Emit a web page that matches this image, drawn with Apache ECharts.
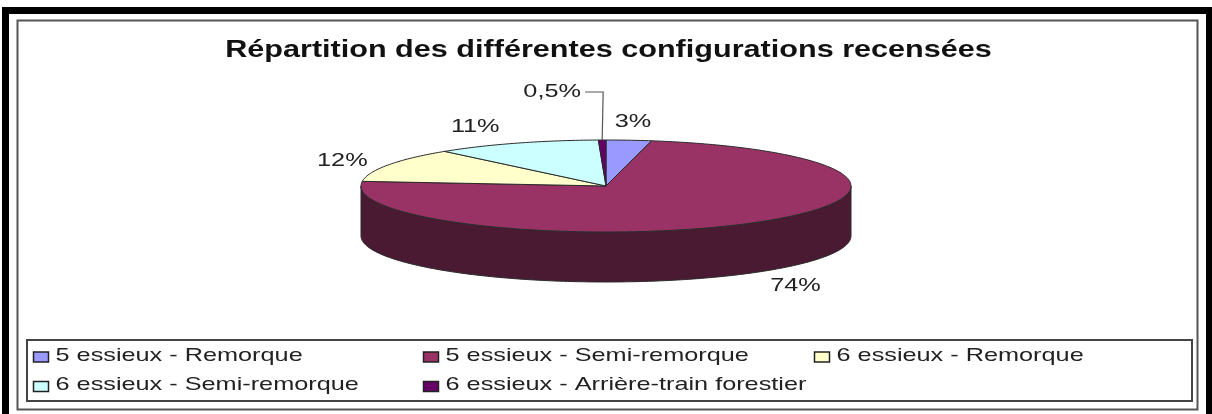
<!DOCTYPE html>
<html>
<head>
<meta charset="utf-8">
<style>
  html, body { margin: 0; padding: 0; background: #fff; }
  #chart { width: 1212px; height: 414px; filter: blur(0.4px); }
</style>
<script src="https://cdn.jsdelivr.net/npm/echarts@6/dist/echarts.min.js"></script>
</head>
<body>
<div id="chart"></div>
<script>
const categories = [
  '5 essieux - Remorque',
  '5 essieux - Semi-remorque',
  '6 essieux - Remorque',
  '6 essieux - Semi-remorque',
  '6 essieux - Arrière-train forestier',
]
const values = [3, 74, 12, 11, 0.5]
const valueLabels = ['3%', '74%', '12%', '11%', '0,5%']
const colors = ['#9999FF', '#993366', '#FFFFCC', '#CCFFFF', '#660066']

// ellipse of the tilted pie
const cx = 606
const cy = 186
const rx = 245
const ry = 46
const depth = 50
const wallColor = '#4A1A33'
const edgeColor = '#2b2b2b'
const textColor = '#222'
const font = 'Liberation Sans, Arial, sans-serif'
// the picture was stretched sideways, text has to follow
const stretch = 1.33
// label offset from the rim point at the middle of each slice
const labelOffsets = [[4, -18], [43, 13], [-46, -4], [-41, -16], [-50, -48]]
// legend cells: x of the swatch, row
const legendCols = [33, 423, 814]
const legendRows = [354.5, 384]

const total = values.reduce((a, b) => a + b, 0)

function rim(deg, dy) {
  const a = (deg * Math.PI) / 180
  return [cx + rx * Math.sin(a), cy - ry * Math.cos(a) + (dy || 0)]
}

function arc(from, to, dy) {
  const pts = []
  for (let d = from; d < to; d += 1) pts.push(rim(d, dy))
  pts.push(rim(to, dy))
  return pts
}

function renderSlice(i) {
  return function (params, api) {
    const before = values.slice(0, i).reduce((a, b) => a + b, 0)
    const start = (before / total) * 360
    const end = start + (api.value(0) / total) * 360
    const mid = (start + end) / 2
    const children = []

    // side wall, only the front half of the ellipse shows
    const w0 = Math.max(start, 90)
    const w1 = Math.min(end, 270)
    if (w1 > w0) {
      children.push({
        type: 'polygon',
        shape: { points: arc(w0, w1, 0).concat(arc(w0, w1, depth).reverse()) },
        style: { fill: wallColor, stroke: edgeColor, lineWidth: 1 },
      })
    }
    children.push({
      type: 'polygon',
      shape: { points: [[cx, cy]].concat(arc(start, end, 0)) },
      style: { fill: colors[i], stroke: edgeColor, lineWidth: 1 },
    })

    const p = rim(mid, mid > 90 && mid < 270 ? depth : 0)
    const lx = p[0] + labelOffsets[i][0]
    const ly = p[1] + labelOffsets[i][1]
    children.push({
      type: 'text',
      x: lx,
      y: ly,
      scaleX: stretch,
      style: {
        text: valueLabels[i],
        fill: textColor,
        font: '19px ' + font,
        align: 'center',
        verticalAlign: 'middle',
      },
    })
    // leader line for the smallest slice
    if (i === values.length - 1) {
      const top = rim(mid)
      children.push({
        type: 'polyline',
        shape: { points: [[lx + 33, ly], [top[0] + 1, ly], [top[0], top[1]]] },
        style: { fill: 'none', stroke: '#555', lineWidth: 1.2 },
      })
    }
    return { type: 'group', children: children }
  }
}

// legend is laid out by hand, echarts legend text can't be stretched
function legendCell(name, col, row) {
  const x = legendCols[col]
  const y = legendRows[row]
  return [
    {
      type: 'rect',
      silent: true,
      shape: { x: x + 0.5, y: y - 2.5, width: 15, height: 10 },
      style: { fill: colors[categories.indexOf(name)], stroke: '#222', lineWidth: 1.5 },
    },
    {
      type: 'text',
      silent: true,
      x: x + 22.5,
      y: y + 1,
      scaleX: stretch,
      style: { text: name, fill: textColor, font: '19px ' + font, verticalAlign: 'middle' },
    },
  ]
}

const chart = echarts.init(document.getElementById('chart'))
chart.setOption({
  animation: false,
  backgroundColor: '#fff',
  graphic: [
    // black band on top and sides
    { type: 'rect', silent: true, z: -10, shape: { x: 2, y: 7, width: 7, height: 407 }, style: { fill: '#000' } },
    { type: 'rect', silent: true, z: -10, shape: { x: 2, y: 7, width: 1210, height: 7 }, style: { fill: '#000' } },
    { type: 'rect', silent: true, z: -10, shape: { x: 1206, y: 7, width: 6, height: 407 }, style: { fill: '#000' } },
    // chart frame
    { type: 'rect', silent: true, z: -9, shape: { x: 17.5, y: 20.5, width: 1180, height: 389 }, style: { fill: '#fff', stroke: '#555', lineWidth: 2 } },
    // legend box
    { type: 'rect', silent: true, z: -8, shape: { x: 27, y: 340, width: 1165, height: 61 }, style: { fill: '#fff', stroke: '#444', lineWidth: 2 } },
    {
      type: 'text',
      silent: true,
      x: 608.5,
      y: 51,
      scaleX: stretch,
      style: {
        text: 'Répartition des différentes configurations recensées',
        fill: '#111',
        font: 'bold 23px ' + font,
        align: 'center',
        verticalAlign: 'middle',
      },
    },
    ...legendCell(categories[0], 0, 0),
    ...legendCell(categories[1], 1, 0),
    ...legendCell(categories[2], 2, 0),
    ...legendCell(categories[3], 0, 1),
    ...legendCell(categories[4], 1, 1),
  ],
  series: categories.map((name, i) => ({
    type: 'custom',
    name: name,
    coordinateSystem: 'none',
    color: colors[i],
    clip: false,
    data: [[values[i]]],
    renderItem: renderSlice(i),
  })),
})
</script>
</body>
</html>
